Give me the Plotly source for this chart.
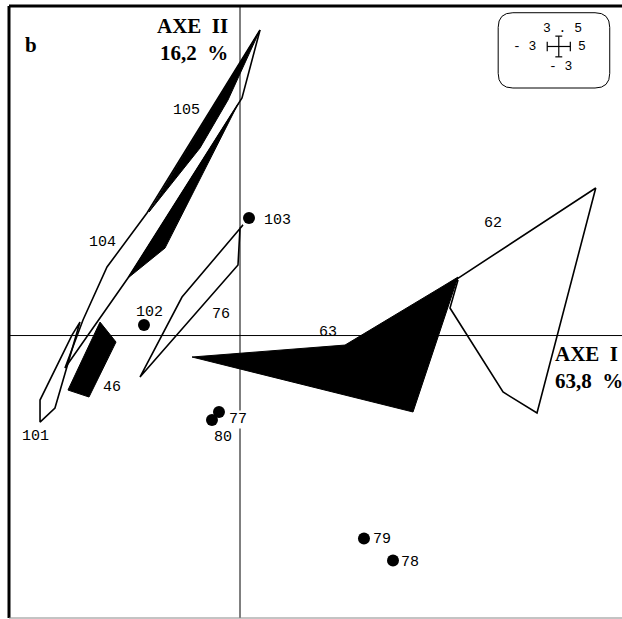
import plotly.graph_objects as go

# Factorial plane, axis I (x) and axis II (y), in axis units
x_range = [-3, 4.961]
y_range = [-3, 3.5]

# Filled (black) group polygons
poly_105_x = [0.26, -1.182, -0.519, -0.156]
poly_105_y = [3.245, 1.312, 1.992, 2.501]
poly_104b_x = [-0.026, -1.455, -0.974]
poly_104b_y = [2.459, 0.611, 0.929]
poly_46_x = [-1.818, -1.610, -1.961, -2.234]
poly_46_y = [0.143, -0.069, -0.653, -0.579]
poly_63_x = [-0.623, 1.364, 2.597, 2.831, 2.247]
poly_63_y = [-0.228, -0.101, 0.505, 0.621, -0.812]

# Open (outline) group polygons
poly_104_x = [0.26, -1.208, -1.727, -2.039, -2.273, -1.455, 0.026]
poly_104_y = [3.245, 1.301, 0.728, 0.165, -0.345, 0.611, 2.523]
poly_101_x = [-2.078, -2.182, -2.597, -2.597, -2.403, -2.234]
poly_101_y = [0.143, 0.005, -0.685, -0.919, -0.770, -0.281]
poly_76_x = [0.039, -0.753, -1.299, -0.818, -0.026, 0.0]
poly_76_y = [1.174, 0.409, -0.441, 0.005, 0.749, 1.142]
poly_62_x = [2.597, 4.62, 3.857, 3.416, 2.727, 2.831]
poly_62_y = [0.483, 1.567, -0.823, -0.600, 0.292, 0.589]

# Single samples
pts_x = [0.117, -1.247, -0.273, -0.364, 1.610, 1.987]
pts_y = [1.248, 0.112, -0.813, -0.897, -2.156, -2.389]

# Labels
lab_text = ["105", "104", "101", "46", "102", "76", "63", "62", "80", "79", "78"]
lab_x = [-0.69, -1.79, -2.66, -1.66, -1.18, -0.25, 1.143, 3.286, -0.221, 1.844, 2.208]
lab_y = [2.395, 0.993, -1.067, -0.547, 0.25, 0.228, 0.037, 1.195, -1.078, -2.161, -2.406]

fig = go.Figure()


def closed(xs, ys):
    return xs + xs[:1], ys + ys[:1]


for xs, ys in [(poly_104_x, poly_104_y), (poly_101_x, poly_101_y),
               (poly_76_x, poly_76_y), (poly_62_x, poly_62_y)]:
    cx, cy = closed(xs, ys)
    fig.add_trace(go.Scatter(x=cx, y=cy, mode='lines', fill='toself',
                             fillcolor='rgba(255,255,255,0)',
                             line=dict(color='black', width=1.6),
                             hoverinfo='skip'))

for xs, ys in [(poly_105_x, poly_105_y), (poly_104b_x, poly_104b_y),
               (poly_46_x, poly_46_y), (poly_63_x, poly_63_y)]:
    cx, cy = closed(xs, ys)
    fig.add_trace(go.Scatter(x=cx, y=cy, mode='lines', fill='toself',
                             fillcolor='black',
                             line=dict(color='black', width=1),
                             hoverinfo='skip'))

fig.add_trace(go.Scatter(x=pts_x, y=pts_y, mode='markers',
                         marker=dict(color='black', size=12)))

mono = dict(family='Liberation Mono, monospace', size=15, color='black')
for t, x, y in zip(lab_text, lab_x, lab_y):
    fig.add_annotation(x=x, y=y, text=t, showarrow=False, font=mono)

fig.add_annotation(x=0.286, y=1.227, text='103', showarrow=False, font=mono,
                   xanchor='left')
fig.add_annotation(x=-0.026, y=-0.887, text='77', showarrow=False, font=mono,
                   bgcolor='white', borderpad=0)

serif = dict(family='Liberation Serif, serif', size=21, color='black')
fig.add_annotation(x=-0.13, y=3.44, text='<b>AXE  II<br>16,2  %</b>',
                   showarrow=False, font=serif, xanchor='right', yanchor='top',
                   align='right')
fig.add_annotation(x=4.065, y=-0.05, text='<b>AXE  I<br>63,8  %</b>',
                   showarrow=False, font=serif, xanchor='left', yanchor='top',
                   align='left')
fig.add_annotation(x=-2.714, y=3.086, text='<b>b</b>', showarrow=False,
                   font=serif)

# Scale key
key = dict(family='Liberation Mono, monospace', size=13, color='black')
kx, ky = 4.14, 3.07
fig.add_annotation(x=kx + 0.05, y=ky + 0.19, text='3 . 5', showarrow=False, font=key)
fig.add_annotation(x=kx - 0.44, y=ky, text='- 3', showarrow=False, font=key)
fig.add_annotation(x=kx + 0.30, y=ky, text='5', showarrow=False, font=key)
fig.add_annotation(x=kx + 0.02, y=ky - 0.21, text='- 3', showarrow=False, font=key)
hw, hh, cap = 0.15, 0.11, 0.05
for x0, y0, x1, y1 in [(kx - hw, ky, kx + hw, ky), (kx, ky - hh, kx, ky + hh),
                       (kx - hw, ky - cap, kx - hw, ky + cap),
                       (kx + hw, ky - cap, kx + hw, ky + cap),
                       (kx - cap * 0.9, ky + hh, kx + cap * 0.9, ky + hh),
                       (kx - cap * 0.9, ky - hh, kx + cap * 0.9, ky - hh)]:
    fig.add_shape(type='line', x0=x0, y0=y0, x1=x1, y1=y1,
                  line=dict(color='black', width=1.2))

# rounded box around the key (paper coords)
bx0, bx1, by0, by1, r = 0.798, 0.98, 0.866, 0.989, 0.024
path = (f"M {bx0 + r},{by0} L {bx1 - r},{by0} Q {bx1},{by0} {bx1},{by0 + r} "
        f"L {bx1},{by1 - r} Q {bx1},{by1} {bx1 - r},{by1} L {bx0 + r},{by1} "
        f"Q {bx0},{by1} {bx0},{by1 - r} L {bx0},{by0 + r} Q {bx0},{by0} {bx0 + r},{by0} Z")
fig.add_shape(type='path', path=path, xref='paper', yref='paper',
              line=dict(color='black', width=1), fillcolor='white', layer='below')

# axes through the origin
fig.add_shape(type='line', x0=0, x1=0, y0=0, y1=1, xref='x', yref='paper',
              line=dict(color='black', width=1), layer='below')
fig.add_shape(type='line', x0=0, x1=1, y0=0, y1=0, xref='paper', yref='y',
              line=dict(color='black', width=1), layer='below')

# frame
fig.add_shape(type='line', x0=0, x1=0, y0=0, y1=1, xref='paper', yref='paper',
              line=dict(color='black', width=3))
fig.add_shape(type='line', x0=0, x1=1, y0=1, y1=1, xref='paper', yref='paper',
              line=dict(color='black', width=3))
fig.add_shape(type='line', x0=0, x1=1, y0=0, y1=0, xref='paper', yref='paper',
              line=dict(color='#888888', width=1))

fig.update_xaxes(range=x_range, visible=False, fixedrange=True)
fig.update_yaxes(range=y_range, visible=False, fixedrange=True)
fig.update_layout(width=622, height=619, showlegend=False,
                  margin=dict(l=9, r=0, t=6, b=1),
                  plot_bgcolor='white', paper_bgcolor='white')

fig.write_html("out.html", config={'displayModeBar': False},
               post_script="document.body.style.margin='0';")
